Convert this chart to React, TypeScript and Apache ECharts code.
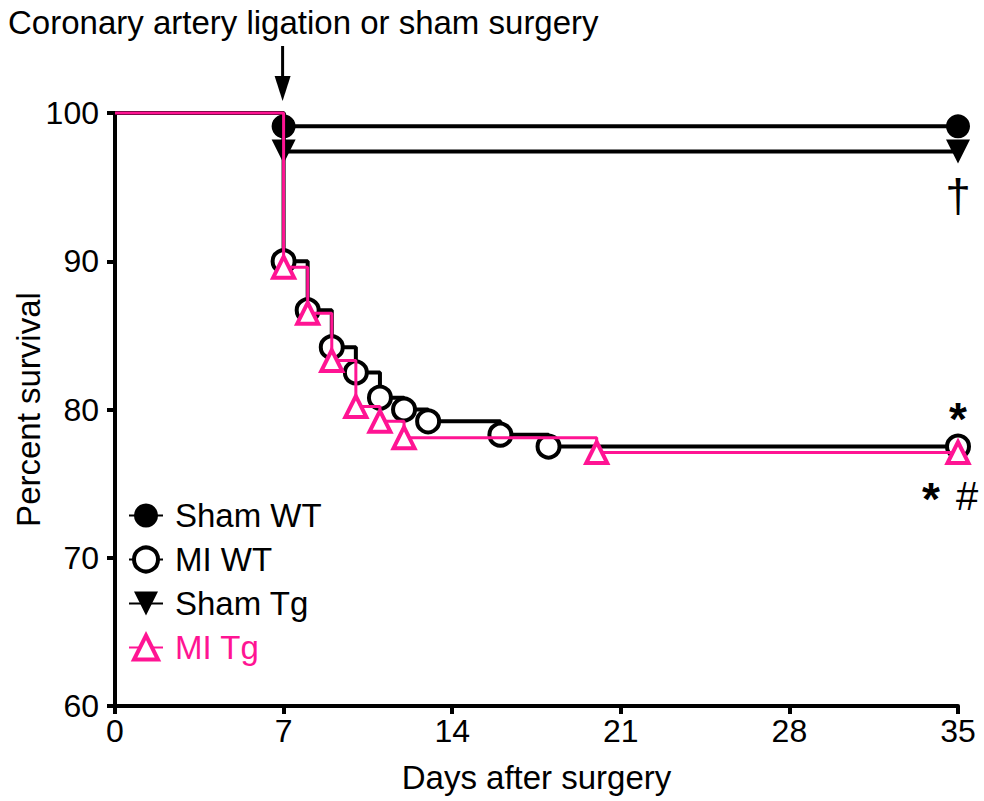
import React, { useEffect, useRef } from "react";
import * as echarts from "echarts";

const xTicks = [0, 7, 14, 21, 28, 35];
const yTicks = [60, 70, 80, 90, 100];

const shamDays = [0, 7, 35];
const shamWt = [100, 99.1, 99.1];
const shamTg = [100, 97.4, 97.4];

const miWtDays = [0, 7, 8, 9, 10, 11, 12, 13, 16, 18, 35];
const miWt = [100, 90.0, 86.7, 84.2, 82.5, 80.8, 80.0, 79.2, 78.3, 77.5, 77.5];

const miTgDays = [0, 7, 8, 9, 10, 11, 12, 20, 35];
const miTg = [100, 89.6, 86.5, 83.3, 80.2, 79.2, 78.1, 77.1, 77.1];

const seriesNames = ["Sham WT", "MI WT", "Sham Tg", "MI Tg"];
const titleText = "Coronary artery ligation or sham surgery";
const xName = "Days after surgery";
const yName = "Percent survival";

const PINK = "#ff1493";
const FONT = "Liberation Sans, Arial, sans-serif";

const pairs = (xs: number[], ys: number[]) => xs.map((x, i) => [x, ys[i]]);

export default function App() {
  const ref = useRef<HTMLDivElement>(null);
  useEffect(() => {
    const chart = echarts.init(ref.current!, undefined, { renderer: "svg" });
    const symSize = (s: any) => (v: number[]) => (v[0] === 0 ? 0 : s);
    const option: any = {
      animation: false,
      backgroundColor: "#fff",
      textStyle: { fontFamily: FONT },
      grid: { left: 115, right: 26, top: 113, bottom: 95, containLabel: false, outerBoundsMode: "none" },
      xAxis: {
        type: "value",
        min: 0,
        max: 35,
        interval: 7,
        name: xName,
        nameLocation: "middle",
        nameGap: 55,
        nameTextStyle: { fontSize: 33, color: "#000", fontFamily: FONT },
        axisLine: { show: true, lineStyle: { color: "#000", width: 4 } },
        axisTick: { show: true, length: 8, lineStyle: { color: "#000", width: 4 } },
        axisLabel: { fontSize: 32, color: "#000", margin: 9, fontFamily: FONT,
          formatter: (v: number) => (xTicks.includes(v) ? String(v) : "") },
        splitLine: { show: false },
      },
      yAxis: {
        type: "value",
        min: 60,
        max: 100,
        interval: 10,
        name: yName,
        nameLocation: "middle",
        nameGap: 70,
        nameMoveOverlap: false,
        nameTextStyle: { fontSize: 33, color: "#000", fontFamily: FONT },
        axisLine: { show: true, lineStyle: { color: "#000", width: 4 } },
        axisTick: { show: true, length: 8, lineStyle: { color: "#000", width: 4 } },
        axisLabel: { fontSize: 32, color: "#000", margin: 16, fontFamily: FONT,
          formatter: (v: number) => (yTicks.includes(v) ? String(v) : "") },
        splitLine: { show: false },
      },
      legend: {
        orient: "vertical",
        left: 123,
        top: 494,
        itemWidth: 34,
        itemHeight: 30,
        itemGap: 11,
        textStyle: { fontSize: 33, lineHeight: 30, color: "#000", fontFamily: FONT, padding: [0, 0, 0, 7] },
        data: [
          { name: seriesNames[0] },
          { name: seriesNames[1], itemStyle: { color: "#fff", borderColor: "#000", borderWidth: 4 } },
          { name: seriesNames[2] },
          { name: seriesNames[3], itemStyle: { color: "#fff", borderColor: PINK, borderWidth: 4 }, textStyle: { color: PINK } },
        ],
      },
      series: [
        {
          name: seriesNames[0],
          type: "line",
          step: "end",
          clip: false,
          data: pairs(shamDays, shamWt),
          symbol: "circle",
          symbolSize: symSize(24),
          lineStyle: { color: "#000", width: 4 },
          itemStyle: { color: "#000", borderColor: "#000", borderWidth: 0 },
          z: 2,
        },
        {
          name: seriesNames[1],
          type: "line",
          step: "end",
          clip: false,
          data: pairs(miWtDays, miWt),
          symbol: "circle",
          symbolSize: symSize(22),
          lineStyle: { color: "#000", width: 4 },
          itemStyle: { color: "#fff", borderColor: "#000", borderWidth: 4 },
          z: 3,
        },
        {
          name: seriesNames[2],
          type: "line",
          step: "end",
          clip: false,
          data: pairs(shamDays, shamTg),
          symbol: "triangle",
          symbolRotate: 180,
          symbolSize: symSize(24),
          lineStyle: { color: "#000", width: 4 },
          itemStyle: { color: "#000", borderColor: "#000", borderWidth: 0 },
          z: 4,
        },
        {
          name: seriesNames[3],
          type: "line",
          step: "end",
          clip: false,
          data: pairs(miTgDays, miTg),
          symbol: "triangle",
          symbolSize: symSize(21),
          lineStyle: { color: PINK, width: 3 },
          itemStyle: { color: "#fff", borderColor: PINK, borderWidth: 4, borderJoin: "miter" },
          z: 5,
        },
      ],
    };
    chart.setOption(option);

    const p7 = chart.convertToPixel({ gridIndex: 0 }, [7, 100]) as number[];
    const pWt = chart.convertToPixel({ gridIndex: 0 }, [35, miWt[miWt.length - 1]]) as number[];
    const pTg = chart.convertToPixel({ gridIndex: 0 }, [35, miTg[miTg.length - 1]]) as number[];
    const pSham = chart.convertToPixel({ gridIndex: 0 }, [35, shamTg[shamTg.length - 1]]) as number[];
    const ax = p7[0] - 1;

    chart.setOption({
      graphic: [
        {
          type: "text",
          x: 8,
          y: 22,
          style: { text: titleText, fontSize: 33, fill: "#000", fontFamily: FONT, verticalAlign: "middle", align: "left" },
        },
        { type: "line", shape: { x1: ax, y1: 46, x2: ax, y2: 80 }, style: { stroke: "#000", lineWidth: 3 } },
        { type: "polygon", shape: { points: [[ax - 8, 76], [ax + 8, 76], [ax, 101]] }, style: { fill: "#000" } },
        {
          type: "text", x: pSham[0], y: pSham[1] + 44,
          style: { text: "†", fontSize: 46, fill: "#000", fontFamily: FONT, align: "center", verticalAlign: "middle" },
        },
        {
          type: "text", x: pWt[0], y: pWt[1] - 28,
          style: { text: "*", fontSize: 46, fill: "#000", fontFamily: FONT, fontWeight: "bold", align: "center", verticalAlign: "middle" },
        },
        {
          type: "text", x: pTg[0] - 27, y: pTg[1] + 47,
          style: { text: "*", fontSize: 46, fill: "#000", fontFamily: FONT, fontWeight: "bold", align: "center", verticalAlign: "middle" },
        },
        {
          type: "text", x: pTg[0] + 9, y: pTg[1] + 44,
          style: { text: "#", fontSize: 40, fill: "#000", fontFamily: FONT, align: "center", verticalAlign: "middle" },
        },
      ],
    });
    return () => chart.dispose();
  }, []);
  return <div ref={ref} style={{ position: "absolute", left: 0, top: 0, width: 984, height: 801 }} />;
}
